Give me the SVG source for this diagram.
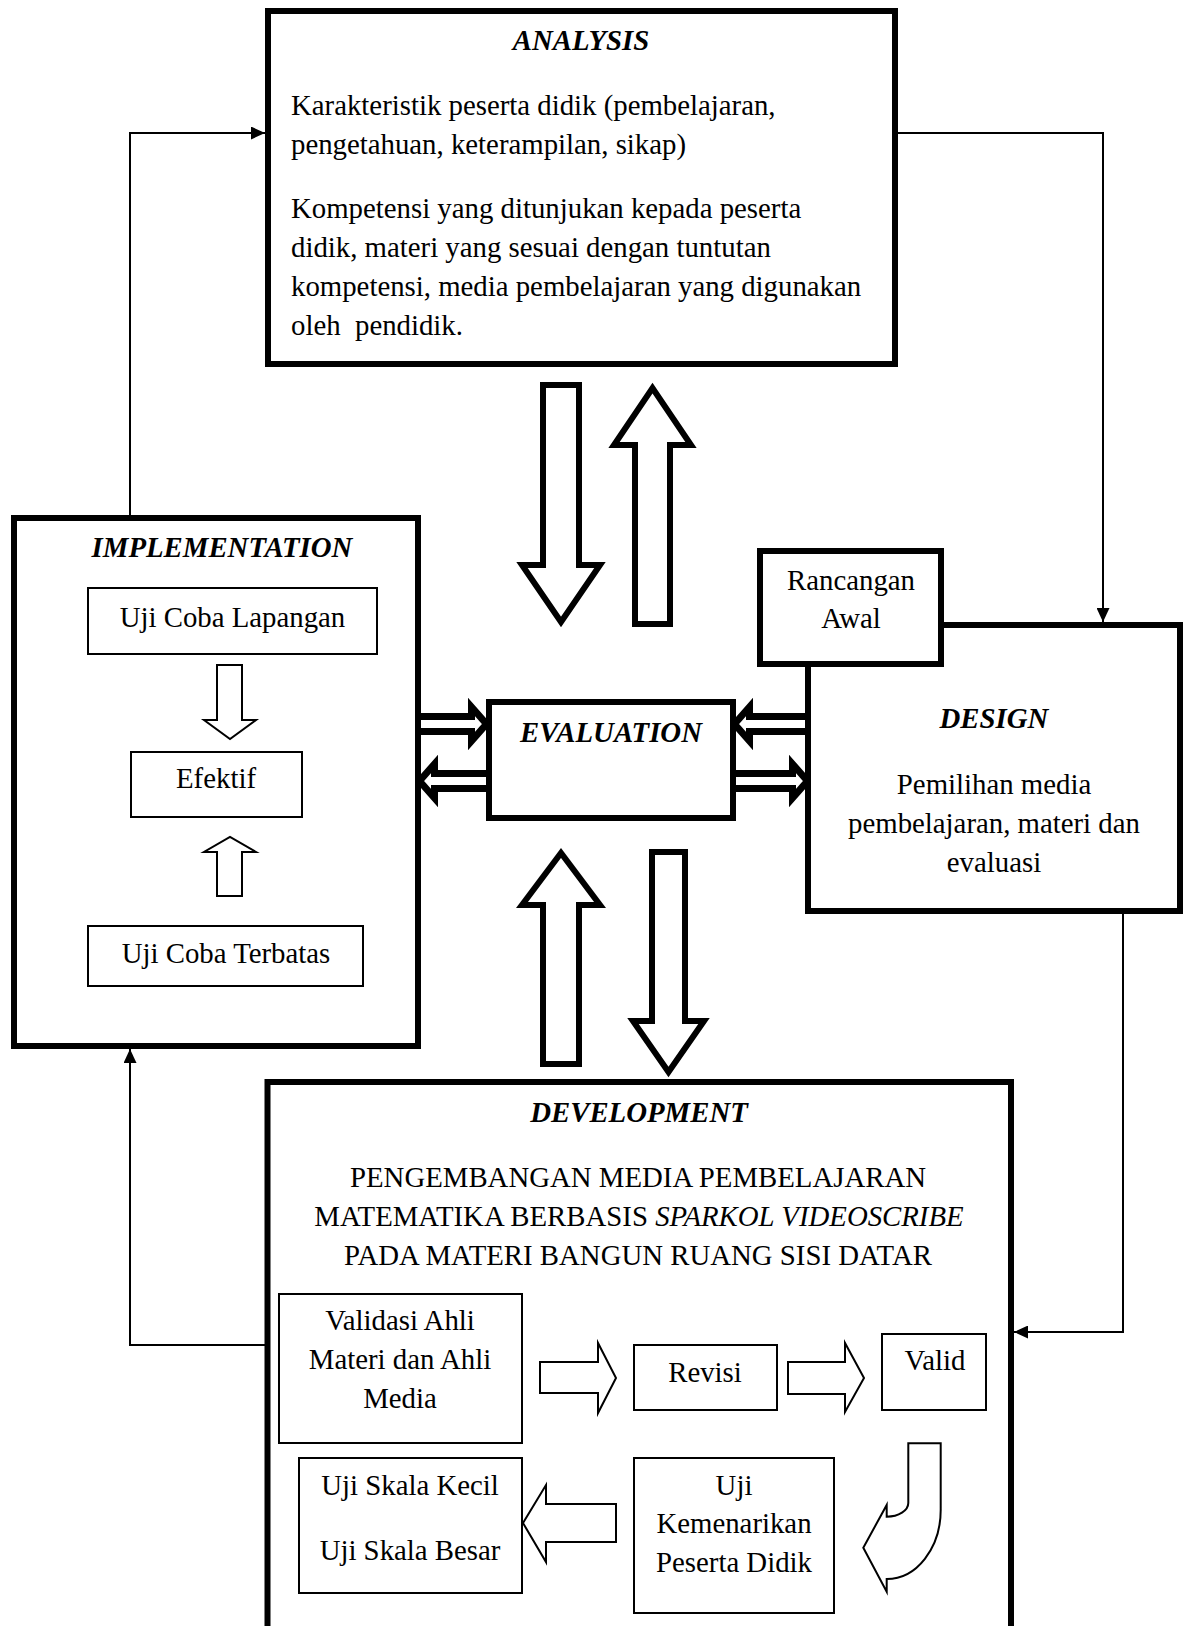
<svg xmlns="http://www.w3.org/2000/svg" width="1184" height="1626" viewBox="0 0 1184 1626">
<style>
.thick{fill:#fff;stroke:#000;stroke-width:6}
.thin{fill:#fff;stroke:#000;stroke-width:2}
.t{font-family:"Liberation Serif","Times New Roman",serif;font-size:28.8px;fill:#000}
.h{font-weight:bold;font-style:italic}
.c{text-anchor:middle}
.ln{fill:none;stroke:#000;stroke-width:2}
.hb{fill:#fff;stroke:#000;stroke-width:6;stroke-miterlimit:10}
.hs{fill:#fff;stroke:#000;stroke-width:2;stroke-miterlimit:10}
.dbl{fill:#fff;stroke:#000;stroke-width:7;stroke-miterlimit:10}
</style>
<defs>
<marker id="ah" markerUnits="userSpaceOnUse" markerWidth="14" markerHeight="13" refX="14" refY="6.5" orient="auto"><path d="M0,0 L14,6.5 L0,13 z" fill="#000"/></marker>
<path id="dblArrow" class="dbl" d="M -90,-7.5 H -19.5 V -17 L -4.5,0 L -19.5,17 V 7.5 H -90 Z"/>
</defs>
<rect width="1184" height="1626" fill="#fff"/>
<g id="connectors">
<path class="ln" d="M130,518 V133 H265" marker-end="url(#ah)"/>
<path class="ln" d="M895,133 H1103 V622" marker-end="url(#ah)"/>
<path class="ln" d="M1123,911 V1332 H1014" marker-end="url(#ah)"/>
<path class="ln" d="M267,1345 H130 V1049" marker-end="url(#ah)"/>
<polygon class="hb" points="543,385 579,385 579,565 600,565 561,622 522,565 543,565"/>
<polygon class="hb" points="635,624 670,624 670,445 691,445 652.5,388 614,445 635,445"/>
<polygon class="hb" points="543,1064 579,1064 579,905 600,905 561,853 522,905 543,905"/>
<polygon class="hb" points="652,852 685,852 685,1021 704,1021 668.5,1072 633,1021 652,1021"/>
<use href="#dblArrow" transform="translate(491,724)"/>
<use href="#dblArrow" transform="translate(415,781) scale(-1,1)"/>
<use href="#dblArrow" transform="translate(730,724) scale(-1,1)"/>
<use href="#dblArrow" transform="translate(812,781)"/>
</g>
<g id="analysis">
<rect class="thick" x="268" y="11" width="627" height="353"/>
<text class="t h c" x="581" y="50">ANALYSIS</text>
<text class="t" x="291" y="115">Karakteristik peserta didik (pembelajaran,</text>
<text class="t" x="291" y="154">pengetahuan, keterampilan, sikap)</text>
<text class="t" x="291" y="218">Kompetensi yang ditunjukan kepada peserta</text>
<text class="t" x="291" y="257">didik, materi yang sesuai dengan tuntutan</text>
<text class="t" x="291" y="296">kompetensi, media pembelajaran yang digunakan</text>
<text class="t" x="291" y="335" style="white-space:pre">oleh  pendidik.</text>
</g>
<g id="implementation">
<rect class="thick" x="14" y="518" width="404" height="528"/>
<text class="t h c" x="222" y="557">IMPLEMENTATION</text>
<g id="uji-coba-lapangan">
<rect class="thin" x="88" y="588" width="289" height="66"/>
<text class="t c" x="232.5" y="627">Uji Coba Lapangan</text>
</g>
<polygon class="hs" points="217,665 242,665 242,720 256,720 230,739 204,720 217,720"/>
<g id="efektif">
<rect class="thin" x="131" y="752" width="171" height="65"/>
<text class="t c" x="216" y="788">Efektif</text>
</g>
<polygon class="hs" points="217,896 242,896 242,852 256,852 230,837 204,852 217,852"/>
<g id="uji-coba-terbatas">
<rect class="thin" x="88" y="926" width="275" height="60"/>
<text class="t c" x="226" y="963">Uji Coba Terbatas</text>
</g>
</g>
<g id="evaluation">
<rect class="thick" x="489" y="702" width="244" height="116"/>
<text class="t h c" x="611" y="742">EVALUATION</text>
</g>
<g id="design">
<rect class="thick" x="808" y="625" width="372" height="286"/>
<text class="t h c" x="994" y="728">DESIGN</text>
<text class="t c" x="994" y="794">Pemilihan media</text>
<text class="t c" x="994" y="833">pembelajaran, materi dan</text>
<text class="t c" x="994" y="872">evaluasi</text>
</g>
<g id="rancangan-awal">
<rect class="thick" x="760" y="551" width="181" height="113"/>
<text class="t c" x="851" y="590">Rancangan</text>
<text class="t c" x="851" y="628">Awal</text>
</g>
<g id="development">
<rect class="thick" x="267.5" y="1082" width="743.5" height="600"/>
<text class="t h c" x="639" y="1122">DEVELOPMENT</text>
<text class="t c" x="638" y="1187">PENGEMBANGAN MEDIA PEMBELAJARAN</text>
<text class="t c" x="639" y="1226">MATEMATIKA BERBASIS <tspan font-style="italic">SPARKOL VIDEOSCRIBE</tspan></text>
<text class="t c" x="638" y="1265">PADA MATERI BANGUN RUANG SISI DATAR</text>
<g id="validasi">
<rect class="thin" x="279" y="1294" width="243" height="149"/>
<text class="t c" x="400" y="1330">Validasi Ahli</text>
<text class="t c" x="400" y="1369">Materi dan Ahli</text>
<text class="t c" x="400" y="1408">Media</text>
</g>
<polygon class="hs" points="540,1362 598,1362 598,1343 616,1378 598,1413 598,1393 540,1393"/>
<g id="revisi">
<rect class="thin" x="634" y="1345" width="143" height="65"/>
<text class="t c" x="705" y="1382">Revisi</text>
</g>
<polygon class="hs" points="788,1362 845,1362 845,1343 864,1378 845,1412 845,1394 788,1394"/>
<g id="valid">
<rect class="thin" x="882" y="1334" width="104" height="76"/>
<text class="t c" x="935" y="1370">Valid</text>
</g>
<path class="hs" d="M 908.3,1443.3 H 940.7 V 1510 A 54 69 0 0 1 886.7 1579 V 1591.7 L 863.3 1547.7 L 886.7 1505 V 1516.7 A 21.6 13.7 0 0 0 908.3 1503 Z"/>
<g id="uji-kemenarikan">
<rect class="thin" x="634" y="1458" width="200" height="155"/>
<text class="t c" x="734" y="1495">Uji</text>
<text class="t c" x="734" y="1533">Kemenarikan</text>
<text class="t c" x="734" y="1572">Peserta Didik</text>
</g>
<polygon class="hs" points="616,1504 546,1504 546,1485 523,1523 546,1562 546,1542 616,1542"/>
<g id="uji-skala">
<rect class="thin" x="299" y="1458" width="223" height="135"/>
<text class="t c" x="410" y="1495">Uji Skala Kecil</text>
<text class="t c" x="410" y="1560">Uji Skala Besar</text>
</g>
</g>
</svg>
